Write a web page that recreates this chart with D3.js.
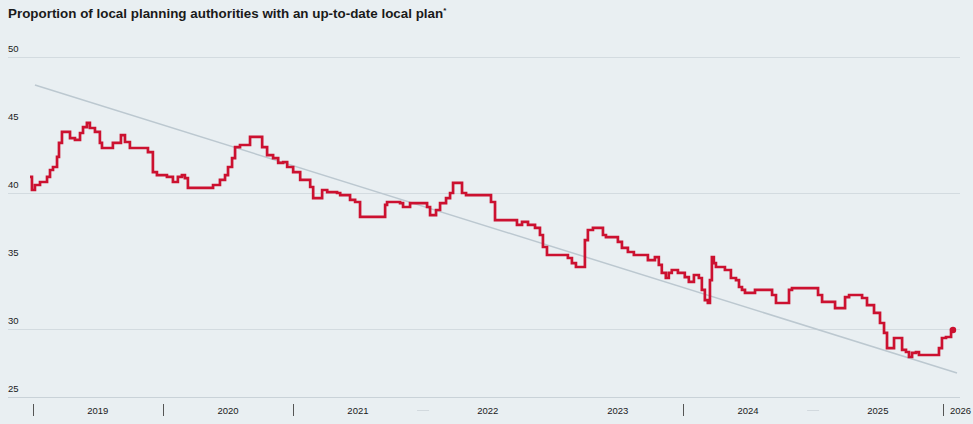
<!DOCTYPE html>
<html>
<head>
<meta charset="utf-8">
<script src="https://cdn.jsdelivr.net/npm/d3@7"></script>
<style>
  html, body { margin: 0; padding: 0; background: #e9eff2; }
  svg { display: block; font-family: "Liberation Sans", Arial, sans-serif; }
</style>
</head>
<body>
<svg id="chart" width="973" height="424"></svg>
<script>
// ---- data (decimal years, percentage values) ----
const times = [
  2018.977, 2018.992, 2019.015, 2019.054, 2019.108, 2019.131, 2019.154, 2019.185, 2019.200, 2019.223,
  2019.285, 2019.323, 2019.362, 2019.385, 2019.415, 2019.438, 2019.477, 2019.515, 2019.531, 2019.615,
  2019.677, 2019.708, 2019.746, 2019.885, 2019.923, 2019.954, 2020.031, 2020.077, 2020.115, 2020.146,
  2020.169, 2020.192, 2020.385, 2020.438, 2020.477, 2020.500, 2020.531, 2020.554, 2020.592, 2020.669,
  2020.762, 2020.800, 2020.846, 2020.885, 2020.923, 2020.954, 2021.000, 2021.054, 2021.131, 2021.154,
  2021.223, 2021.262, 2021.338, 2021.362, 2021.438, 2021.477, 2021.515, 2021.708, 2021.723, 2021.823,
  2021.846, 2021.900, 2022.031, 2022.054, 2022.100, 2022.131, 2022.177, 2022.208, 2022.231, 2022.300,
  2022.331, 2022.523, 2022.554, 2022.723, 2022.762, 2022.808, 2022.862, 2022.900, 2022.923, 2022.954,
  2023.115, 2023.146, 2023.177, 2023.246, 2023.269, 2023.308, 2023.385, 2023.408, 2023.500, 2023.531,
  2023.577, 2023.623, 2023.731, 2023.785, 2023.815, 2023.838, 2023.869, 2023.892, 2023.915, 2023.962,
  2024.015, 2024.046, 2024.085, 2024.123, 2024.146, 2024.169, 2024.192, 2024.208, 2024.223, 2024.238,
  2024.254, 2024.323, 2024.369, 2024.408, 2024.431, 2024.454, 2024.477, 2024.554, 2024.685, 2024.715,
  2024.815, 2024.838, 2025.038, 2025.069, 2025.169, 2025.246, 2025.277, 2025.377, 2025.415, 2025.469,
  2025.515, 2025.546, 2025.569, 2025.623, 2025.685, 2025.715, 2025.738, 2025.762, 2025.792, 2025.815,
  2025.969, 2025.992, 2026.023, 2026.062, 2026.077
];
const values = [
  41.18, 40.22, 40.59, 40.81, 41.18, 41.69, 41.91, 42.65, 43.68, 44.49,
  44.04, 43.90, 44.41, 44.85, 45.15, 44.78, 44.49, 43.68, 43.31, 43.68,
  44.26, 43.75, 43.31, 43.01, 41.54, 41.32, 41.18, 40.81, 41.18, 41.32,
  41.10, 40.37, 40.59, 40.96, 41.32, 41.91, 42.57, 43.38, 43.53, 44.12,
  43.38, 42.79, 42.57, 42.21, 42.28, 41.91, 41.54, 40.96, 40.44, 39.63,
  40.22, 40.07, 40.00, 39.85, 39.49, 39.34, 38.24, 39.12, 39.34, 39.26,
  38.97, 39.26, 38.97, 38.38, 38.75, 39.26, 39.63, 40.00, 40.74, 40.00,
  39.85, 39.34, 38.01, 37.65, 37.87, 37.65, 37.43, 36.91, 36.03, 35.44,
  35.22, 34.85, 34.56, 36.54, 37.28, 37.43, 36.91, 36.76, 36.40, 35.96,
  35.66, 35.44, 35.07, 35.29, 34.71, 34.12, 33.75, 34.12, 34.34, 34.12,
  33.82, 33.46, 33.97, 33.75, 32.87, 32.13, 31.91, 33.60, 35.29, 34.85,
  34.56, 34.34, 33.75, 33.60, 33.09, 32.87, 32.65, 32.87, 32.50, 31.91,
  32.87, 33.01, 32.50, 31.99, 31.54, 32.35, 32.50, 32.28, 31.76, 31.18,
  30.44, 29.71, 28.60, 29.34, 28.46, 28.31, 27.94, 28.24, 28.31, 28.09,
  28.60, 29.34, 29.41, 29.93, 29.93
];
const trendTimes = [2019.015, 2026.108];
const trendValues = [47.94, 26.76];
const yTicks = [50, 45, 40, 35, 30, 25];
const gridValues = [50, 40, 30, 25];
const yearLabels = ["2019", "2020", "2021", "2022", "2023", "2024", "2025", "2026"];
const tickYears = [2019, 2020, 2021, 2024, 2026];
const faintTickYears = [2022, 2025];
const titleText = "Proportion of local planning authorities with an up-to-date local plan";

// ---- helpers ----
function toDate(t) {
  const y = Math.floor(t);
  const s = new Date(y, 0, 1), e = new Date(y + 1, 0, 1);
  return new Date(+s + (t - y) * (e - s));
}

const svg = d3.select("#chart");
const W = 973, H = 424;

const x = d3.scaleTime()
  .domain([new Date(2019, 0, 1), new Date(2026, 0, 1)])
  .range([33, 943]);
const y = d3.scaleLinear().domain([25, 50]).range([397, 57]);

svg.append("rect").attr("width", W).attr("height", H).attr("fill", "#e9eff2");

// title
const title = svg.append("text")
  .attr("x", 8).attr("y", 18)
  .attr("font-size", 13.4).attr("font-weight", "bold").attr("fill", "#1a1a1a")
  .text(titleText);
title.append("tspan").attr("font-size", 8).attr("dy", -5).text("*");

// gridlines
svg.append("g").selectAll("line").data(gridValues).join("line")
  .attr("x1", 8).attr("x2", 960)
  .attr("y1", d => y(d) + 0.5).attr("y2", d => y(d) + 0.5)
  .attr("stroke", d => d === 25 ? "#c9d2d8" : "#d3dbe0").attr("stroke-width", 1);

// y labels
svg.append("g").selectAll("text").data(yTicks).join("text")
  .attr("x", 8).attr("y", d => y(d) - 5)
  .attr("font-size", 9.5).attr("fill", "#1a1a1a")
  .text(d => d);

// x ticks
svg.append("g").selectAll("line").data(tickYears).join("line")
  .attr("x1", d => Math.round(x(new Date(d, 0, 1))) + 0.5)
  .attr("x2", d => Math.round(x(new Date(d, 0, 1))) + 0.5)
  .attr("y1", 404).attr("y2", 416)
  .attr("stroke", "#555").attr("stroke-width", 1);
svg.append("g").selectAll("line").data(faintTickYears).join("line")
  .attr("x1", d => x(new Date(d, 0, 1)) - 6)
  .attr("x2", d => x(new Date(d, 0, 1)) + 6)
  .attr("y1", 410.5).attr("y2", 410.5)
  .attr("stroke", "#d2d9de").attr("stroke-width", 1);

// year labels
svg.append("g").selectAll("text").data(yearLabels).join("text")
  .attr("x", d => {
    const yr = +d;
    return yr === 2026 ? x(new Date(2026, 0, 1)) + 7 : x(new Date(yr, 6, 2));
  })
  .attr("y", 414)
  .attr("text-anchor", d => +d === 2026 ? "start" : "middle")
  .attr("font-size", 9.5).attr("fill", "#1a1a1a")
  .text(d => d);

// trend line
const trend = trendTimes.map((t, i) => ({ date: toDate(t), value: trendValues[i] }));
svg.append("path")
  .datum(trend)
  .attr("fill", "none").attr("stroke", "#bcc8d0").attr("stroke-width", 1.5)
  .attr("d", d3.line().x(d => x(d.date)).y(d => y(d.value)));

// main series
const series = times.map((t, i) => ({ date: toDate(t), value: values[i] }));
svg.append("path")
  .datum(series)
  .attr("fill", "none").attr("stroke", "#cc1130").attr("stroke-width", 2.7)
  .attr("stroke-linejoin", "miter")
  .attr("d", d3.line().curve(d3.curveStepAfter).x(d => x(d.date)).y(d => y(d.value)));

const last = series[series.length - 1];
svg.append("circle")
  .attr("cx", x(last.date)).attr("cy", y(last.value)).attr("r", 3.2)
  .attr("fill", "#cc1130");
</script>
</body>
</html>
